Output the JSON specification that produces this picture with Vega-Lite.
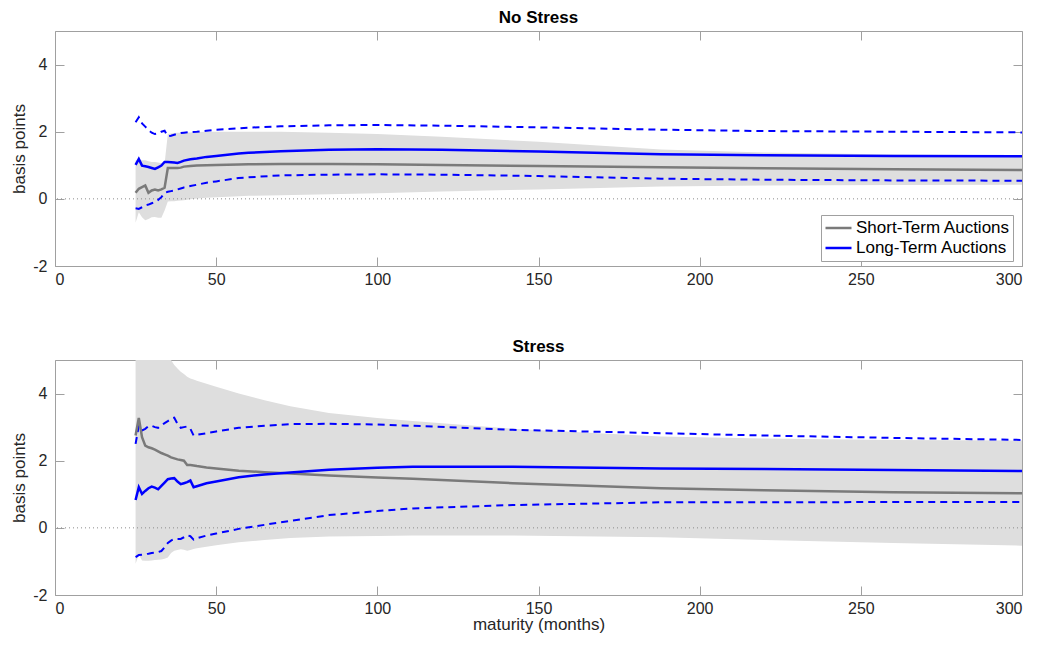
{
  "$schema": "https://vega.github.io/schema/vega-lite/v6.json",
  "padding": {"left": 10, "top": 8, "right": 8, "bottom": 6},
  "config": {
    "font": "Liberation Sans",
    "view": {"stroke": "#a0a0a0", "strokeWidth": 1},
    "axis": {
      "domain": false,
      "grid": false,
      "tickColor": "#a0a0a0",
      "tickSize": -9,
      "labelColor": "#262626",
      "labelFontSize": 16,
      "labelPadding": 14,
      "labelExpr": "replace(datum.label, '\u2212', '-')",
      "titleFontSize": 17,
      "titleFontWeight": "normal",
      "titleColor": "#262626"
    },
    "axisY": {"labelPadding": 17},
    "title": {"fontSize": 17, "fontWeight": "bold", "color": "#000000", "offset": 4, "anchor": "middle"},
    "legend": {
      "orient": "none",
      "legendX": 766,
      "legendY": 184,
      "strokeColor": "#a0a0a0",
      "fillColor": "#ffffff",
      "padding": 3,
      "symbolType": "stroke",
      "symbolSize": 676,
      "symbolStrokeWidth": 2.5,
      "clipHeight": 20,
      "labelFontSize": 17,
      "labelColor": "#000000",
      "labelOffset": 3,
      "rowPadding": 0,
      "title": null
    }
  },
  "datasets": {
    "noStress": [
      {"m": 25, "st": 0.18, "lt": 1.01, "st_lo": -0.71, "st_hi": 1.14, "lt_lo": -0.28, "lt_hi": 2.28},
      {"m": 26, "st": 0.30, "lt": 1.19, "st_lo": -0.40, "st_hi": 1.16, "lt_lo": -0.30, "lt_hi": 2.43},
      {"m": 27, "st": 0.35, "lt": 0.99, "st_lo": -0.55, "st_hi": 1.15, "lt_lo": -0.25, "lt_hi": 2.25},
      {"m": 28, "st": 0.40, "lt": 0.97, "st_lo": -0.64, "st_hi": 1.15, "lt_lo": -0.20, "lt_hi": 2.15},
      {"m": 29, "st": 0.18, "lt": 0.95, "st_lo": -0.60, "st_hi": 1.12, "lt_lo": -0.17, "lt_hi": 2.05},
      {"m": 30, "st": 0.25, "lt": 0.92, "st_lo": -0.55, "st_hi": 1.10, "lt_lo": -0.13, "lt_hi": 1.97},
      {"m": 31, "st": 0.28, "lt": 0.89, "st_lo": -0.54, "st_hi": 1.10, "lt_lo": -0.10, "lt_hi": 1.93},
      {"m": 32, "st": 0.25, "lt": 0.94, "st_lo": -0.56, "st_hi": 1.08, "lt_lo": -0.03, "lt_hi": 1.95},
      {"m": 33, "st": 0.28, "lt": 0.99, "st_lo": -0.56, "st_hi": 1.06, "lt_lo": 0.05, "lt_hi": 2.00},
      {"m": 34, "st": 0.33, "lt": 1.10, "st_lo": -0.35, "st_hi": 1.05, "lt_lo": 0.18, "lt_hi": 2.03},
      {"m": 35, "st": 0.92, "lt": 1.10, "st_lo": -0.08, "st_hi": 1.93, "lt_lo": 0.21, "lt_hi": 1.86},
      {"m": 36, "st": 0.92, "lt": 1.09, "st_lo": -0.07, "st_hi": 1.95, "lt_lo": 0.23, "lt_hi": 1.88},
      {"m": 37, "st": 0.92, "lt": 1.08, "st_lo": -0.07, "st_hi": 1.96, "lt_lo": 0.25, "lt_hi": 1.91},
      {"m": 38, "st": 0.92, "lt": 1.07, "st_lo": -0.06, "st_hi": 1.97, "lt_lo": 0.28, "lt_hi": 1.94},
      {"m": 39, "st": 0.93, "lt": 1.10, "st_lo": -0.05, "st_hi": 1.97, "lt_lo": 0.31, "lt_hi": 1.96},
      {"m": 40, "st": 0.96, "lt": 1.14, "st_lo": -0.04, "st_hi": 1.98, "lt_lo": 0.34, "lt_hi": 1.97},
      {"m": 42, "st": 0.98, "lt": 1.18, "st_lo": -0.01, "st_hi": 1.98, "lt_lo": 0.38, "lt_hi": 1.99},
      {"m": 44, "st": 0.99, "lt": 1.20, "st_lo": 0.01, "st_hi": 1.99, "lt_lo": 0.42, "lt_hi": 2.00},
      {"m": 47, "st": 1.00, "lt": 1.25, "st_lo": 0.03, "st_hi": 2.00, "lt_lo": 0.48, "lt_hi": 2.03},
      {"m": 50, "st": 1.01, "lt": 1.28, "st_lo": 0.05, "st_hi": 2.00, "lt_lo": 0.52, "lt_hi": 2.06},
      {"m": 57, "st": 1.02, "lt": 1.35, "st_lo": 0.08, "st_hi": 2.00, "lt_lo": 0.62, "lt_hi": 2.10},
      {"m": 60, "st": 1.03, "lt": 1.37, "st_lo": 0.09, "st_hi": 2.00, "lt_lo": 0.64, "lt_hi": 2.12},
      {"m": 70, "st": 1.04, "lt": 1.42, "st_lo": 0.11, "st_hi": 2.00, "lt_lo": 0.70, "lt_hi": 2.16},
      {"m": 85, "st": 1.04, "lt": 1.46, "st_lo": 0.14, "st_hi": 1.97, "lt_lo": 0.72, "lt_hi": 2.19},
      {"m": 100, "st": 1.03, "lt": 1.48, "st_lo": 0.17, "st_hi": 1.93, "lt_lo": 0.73, "lt_hi": 2.20},
      {"m": 120, "st": 1.01, "lt": 1.46, "st_lo": 0.22, "st_hi": 1.85, "lt_lo": 0.72, "lt_hi": 2.18},
      {"m": 150, "st": 0.98, "lt": 1.41, "st_lo": 0.28, "st_hi": 1.70, "lt_lo": 0.68, "lt_hi": 2.13},
      {"m": 188, "st": 0.94, "lt": 1.33, "st_lo": 0.37, "st_hi": 1.47, "lt_lo": 0.60, "lt_hi": 2.06},
      {"m": 220, "st": 0.91, "lt": 1.30, "st_lo": 0.40, "st_hi": 1.38, "lt_lo": 0.57, "lt_hi": 2.02},
      {"m": 260, "st": 0.88, "lt": 1.28, "st_lo": 0.41, "st_hi": 1.32, "lt_lo": 0.55, "lt_hi": 2.00},
      {"m": 300, "st": 0.86, "lt": 1.27, "st_lo": 0.42, "st_hi": 1.30, "lt_lo": 0.54, "lt_hi": 1.98}
    ],
    "stress": [
      {"m": 25, "st": 2.75, "lt": 0.83, "st_lo": -1.07, "st_hi": 5.8, "lt_lo": -0.87, "lt_hi": 2.50},
      {"m": 26, "st": 3.27, "lt": 1.21, "st_lo": -0.80, "st_hi": 5.8, "lt_lo": -0.81, "lt_hi": 3.04},
      {"m": 27, "st": 2.70, "lt": 1.01, "st_lo": -0.97, "st_hi": 5.8, "lt_lo": -0.80, "lt_hi": 2.90},
      {"m": 28, "st": 2.45, "lt": 1.10, "st_lo": -0.98, "st_hi": 5.8, "lt_lo": -0.78, "lt_hi": 2.95},
      {"m": 29, "st": 2.40, "lt": 1.18, "st_lo": -0.98, "st_hi": 5.8, "lt_lo": -0.77, "lt_hi": 3.03},
      {"m": 30, "st": 2.37, "lt": 1.23, "st_lo": -0.97, "st_hi": 5.8, "lt_lo": -0.75, "lt_hi": 3.04},
      {"m": 31, "st": 2.33, "lt": 1.20, "st_lo": -0.96, "st_hi": 5.8, "lt_lo": -0.74, "lt_hi": 3.00},
      {"m": 32, "st": 2.28, "lt": 1.15, "st_lo": -0.95, "st_hi": 5.7, "lt_lo": -0.72, "lt_hi": 2.98},
      {"m": 33, "st": 2.23, "lt": 1.25, "st_lo": -0.94, "st_hi": 5.6, "lt_lo": -0.69, "lt_hi": 3.05},
      {"m": 34, "st": 2.19, "lt": 1.35, "st_lo": -0.92, "st_hi": 5.4, "lt_lo": -0.58, "lt_hi": 3.12},
      {"m": 35, "st": 2.15, "lt": 1.45, "st_lo": -0.88, "st_hi": 5.2, "lt_lo": -0.45, "lt_hi": 3.18},
      {"m": 36, "st": 2.10, "lt": 1.47, "st_lo": -0.75, "st_hi": 5.0, "lt_lo": -0.38, "lt_hi": 3.25},
      {"m": 37, "st": 2.07, "lt": 1.48, "st_lo": -0.68, "st_hi": 4.85, "lt_lo": -0.33, "lt_hi": 3.28},
      {"m": 38, "st": 2.04, "lt": 1.38, "st_lo": -0.66, "st_hi": 4.75, "lt_lo": -0.33, "lt_hi": 3.10},
      {"m": 39, "st": 2.02, "lt": 1.30, "st_lo": -0.64, "st_hi": 4.65, "lt_lo": -0.33, "lt_hi": 2.98},
      {"m": 40, "st": 2.00, "lt": 1.33, "st_lo": -0.65, "st_hi": 4.58, "lt_lo": -0.28, "lt_hi": 3.00},
      {"m": 41, "st": 1.87, "lt": 1.36, "st_lo": -0.68, "st_hi": 4.50, "lt_lo": -0.22, "lt_hi": 3.02},
      {"m": 42, "st": 1.87, "lt": 1.41, "st_lo": -0.66, "st_hi": 4.45, "lt_lo": -0.25, "lt_hi": 2.95},
      {"m": 43, "st": 1.86, "lt": 1.21, "st_lo": -0.63, "st_hi": 4.42, "lt_lo": -0.35, "lt_hi": 2.75},
      {"m": 44, "st": 1.84, "lt": 1.24, "st_lo": -0.61, "st_hi": 4.38, "lt_lo": -0.31, "lt_hi": 2.77},
      {"m": 47, "st": 1.80, "lt": 1.33, "st_lo": -0.56, "st_hi": 4.29, "lt_lo": -0.23, "lt_hi": 2.82},
      {"m": 50, "st": 1.77, "lt": 1.38, "st_lo": -0.52, "st_hi": 4.20, "lt_lo": -0.17, "lt_hi": 2.87},
      {"m": 57, "st": 1.70, "lt": 1.51, "st_lo": -0.43, "st_hi": 4.00, "lt_lo": -0.03, "lt_hi": 2.98},
      {"m": 65, "st": 1.66, "lt": 1.59, "st_lo": -0.36, "st_hi": 3.80, "lt_lo": 0.09, "lt_hi": 3.04},
      {"m": 73, "st": 1.62, "lt": 1.65, "st_lo": -0.30, "st_hi": 3.62, "lt_lo": 0.21, "lt_hi": 3.09},
      {"m": 85, "st": 1.56, "lt": 1.73, "st_lo": -0.26, "st_hi": 3.42, "lt_lo": 0.38, "lt_hi": 3.10},
      {"m": 100, "st": 1.50, "lt": 1.79, "st_lo": -0.24, "st_hi": 3.27, "lt_lo": 0.50, "lt_hi": 3.08},
      {"m": 111, "st": 1.46, "lt": 1.82, "st_lo": -0.23, "st_hi": 3.18, "lt_lo": 0.58, "lt_hi": 3.04},
      {"m": 142, "st": 1.33, "lt": 1.82, "st_lo": -0.23, "st_hi": 2.95, "lt_lo": 0.68, "lt_hi": 2.92},
      {"m": 188, "st": 1.18, "lt": 1.77, "st_lo": -0.28, "st_hi": 2.72, "lt_lo": 0.76, "lt_hi": 2.82},
      {"m": 220, "st": 1.12, "lt": 1.75, "st_lo": -0.36, "st_hi": 2.66, "lt_lo": 0.76, "lt_hi": 2.75},
      {"m": 260, "st": 1.06, "lt": 1.72, "st_lo": -0.45, "st_hi": 2.62, "lt_lo": 0.77, "lt_hi": 2.68},
      {"m": 300, "st": 1.03, "lt": 1.69, "st_lo": -0.53, "st_hi": 2.60, "lt_lo": 0.77, "lt_hi": 2.62}
    ]
  },
  "spacing": 49,
  "resolve": {"scale": {"color": "independent"}},
  "vconcat": [
    {
      "title": {"text": "No Stress"},
      "width": 967,
      "height": 235,
      "data": {"name": "noStress"},
      "resolve": {"axis": {"x": "independent", "y": "independent"}},
      "layer": [
        {
          "mark": {"type": "area", "color": "#dedede", "clip": true},
          "encoding": {
            "x": {"field": "m", "type": "quantitative", "scale": {"domain": [0, 300], "nice": false},
                  "axis": {"values": [0, 50, 100, 150, 200, 250, 300], "title": null}},
            "y": {"field": "st_lo", "type": "quantitative", "scale": {"domain": [-2, 5], "nice": false},
                  "axis": {"values": [-2, 0, 2, 4], "title": "basis points", "titlePadding": 4}},
            "y2": {"field": "st_hi"}
          }
        },
        {
          "data": {"values": [{"ref": 0}]},
          "mark": {"type": "rule", "color": "#8c8c8c", "strokeWidth": 1, "strokeDash": [1, 3]},
          "encoding": {"y": {"field": "ref", "type": "quantitative", "axis": null}}
        },
        {
          "mark": {"type": "line", "color": "#0000ff", "strokeWidth": 2, "strokeDash": [7, 5], "clip": true},
          "encoding": {
            "x": {"field": "m", "type": "quantitative",
                  "axis": {"orient": "top", "labels": false, "title": null, "values": [0, 50, 100, 150, 200, 250, 300]}},
            "y": {"field": "lt_hi", "type": "quantitative",
                  "axis": {"orient": "right", "labels": false, "title": null, "values": [-2, 0, 2, 4]}}
          }
        },
        {
          "mark": {"type": "line", "color": "#0000ff", "strokeWidth": 2, "strokeDash": [7, 5], "clip": true},
          "encoding": {
            "x": {"field": "m", "type": "quantitative", "axis": null},
            "y": {"field": "lt_lo", "type": "quantitative", "axis": null}
          }
        },
        {
          "transform": [{"fold": ["st", "lt"], "as": ["series", "value"]}],
          "mark": {"type": "line", "strokeWidth": 2.5, "clip": true},
          "encoding": {
            "x": {"field": "m", "type": "quantitative", "axis": null},
            "y": {"field": "value", "type": "quantitative", "axis": null},
            "color": {"field": "series", "type": "nominal",
                      "scale": {"domain": ["st", "lt"], "range": ["#7a7a7a", "#0000ff"]},
                      "legend": {"labelExpr": "datum.label == 'st' ? 'Short-Term Auctions' : 'Long-Term Auctions'"}}
          }
        }
      ]
    },
    {
      "title": {"text": "Stress"},
      "width": 967,
      "height": 235,
      "data": {"name": "stress"},
      "resolve": {"axis": {"x": "independent", "y": "independent"}},
      "layer": [
        {
          "mark": {"type": "area", "color": "#dedede", "clip": true},
          "encoding": {
            "x": {"field": "m", "type": "quantitative", "scale": {"domain": [0, 300], "nice": false},
                  "axis": {"values": [0, 50, 100, 150, 200, 250, 300], "title": "maturity (months)", "titlePadding": 0}},
            "y": {"field": "st_lo", "type": "quantitative", "scale": {"domain": [-2, 5], "nice": false},
                  "axis": {"values": [-2, 0, 2, 4], "title": "basis points", "titlePadding": 4}},
            "y2": {"field": "st_hi"}
          }
        },
        {
          "data": {"values": [{"ref": 0}]},
          "mark": {"type": "rule", "color": "#8c8c8c", "strokeWidth": 1, "strokeDash": [1, 3]},
          "encoding": {"y": {"field": "ref", "type": "quantitative", "axis": null}}
        },
        {
          "mark": {"type": "line", "color": "#0000ff", "strokeWidth": 2, "strokeDash": [7, 5], "clip": true},
          "encoding": {
            "x": {"field": "m", "type": "quantitative",
                  "axis": {"orient": "top", "labels": false, "title": null, "values": [0, 50, 100, 150, 200, 250, 300]}},
            "y": {"field": "lt_hi", "type": "quantitative",
                  "axis": {"orient": "right", "labels": false, "title": null, "values": [-2, 0, 2, 4]}}
          }
        },
        {
          "mark": {"type": "line", "color": "#0000ff", "strokeWidth": 2, "strokeDash": [7, 5], "clip": true},
          "encoding": {
            "x": {"field": "m", "type": "quantitative", "axis": null},
            "y": {"field": "lt_lo", "type": "quantitative", "axis": null}
          }
        },
        {
          "transform": [{"fold": ["st", "lt"], "as": ["series", "value"]}],
          "mark": {"type": "line", "strokeWidth": 2.5, "clip": true},
          "encoding": {
            "x": {"field": "m", "type": "quantitative", "axis": null},
            "y": {"field": "value", "type": "quantitative", "axis": null},
            "color": {"field": "series", "type": "nominal",
                      "scale": {"domain": ["st", "lt"], "range": ["#7a7a7a", "#0000ff"]},
                      "legend": null}
          }
        }
      ]
    }
  ]
}
